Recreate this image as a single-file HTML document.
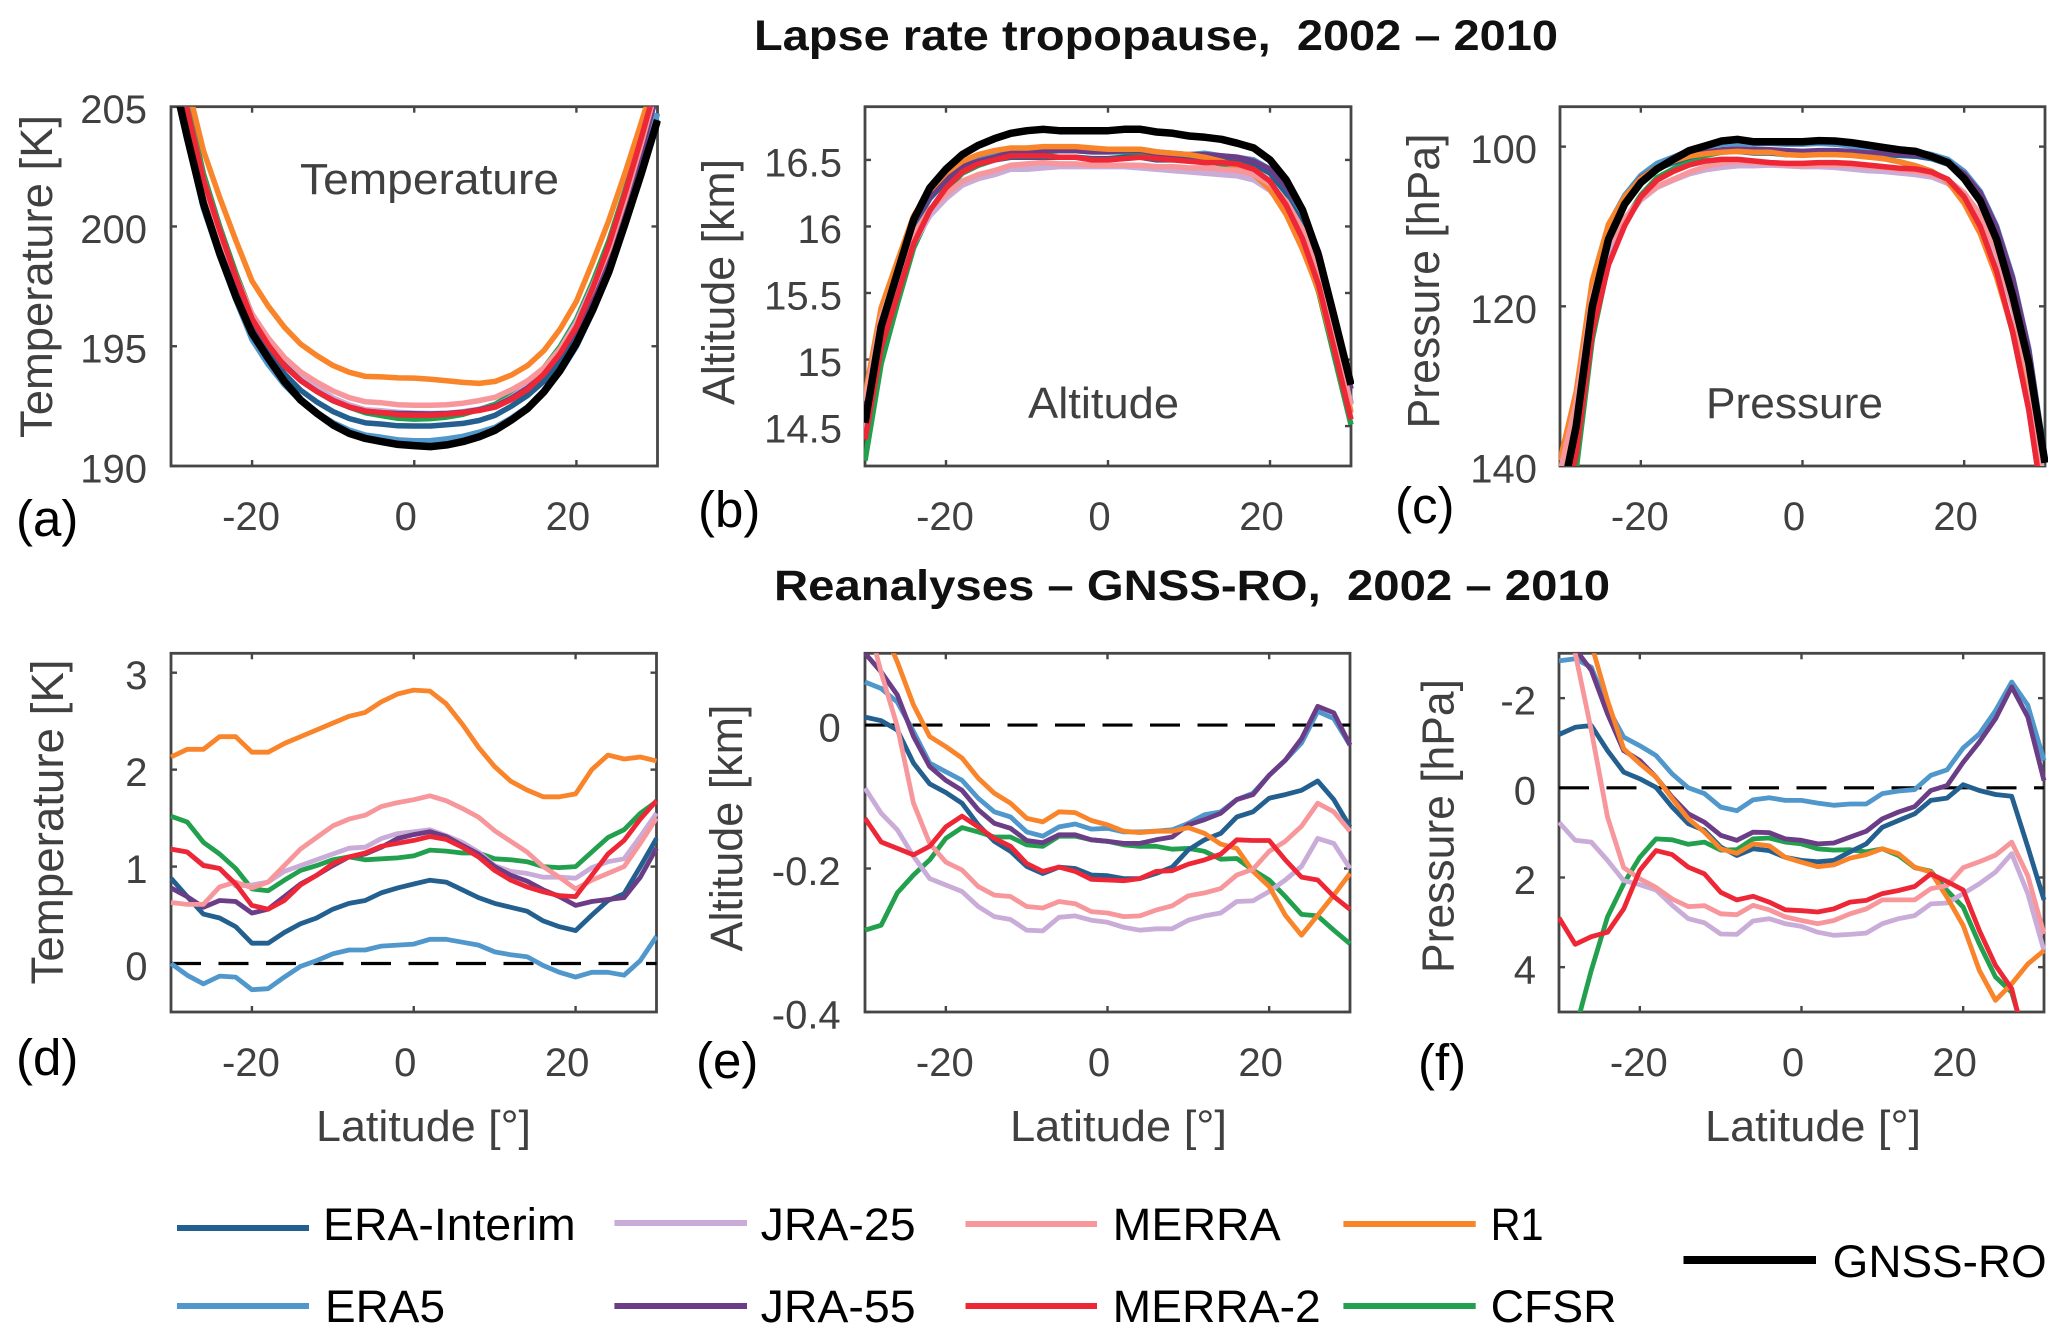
<!DOCTYPE html>
<html lang="en">
<head>
<meta charset="utf-8">
<title>Lapse rate tropopause 2002-2010</title>
<style>
html,body{margin:0;padding:0;background:#fff}
svg{display:block}
text{font-family:"Liberation Sans",sans-serif}
</style>
</head>
<body>
<svg id="figure" xmlns="http://www.w3.org/2000/svg" width="2067" height="1341" viewBox="0 0 2067 1341">
<rect x="0" y="0" width="2067" height="1341" fill="#fff"/>
<text x="754" y="50" font-size="43" font-weight="700" fill="#111" textLength="804" lengthAdjust="spacingAndGlyphs" xml:space="preserve">Lapse rate tropopause,  2002 – 2010</text>
<text x="774" y="600" font-size="43" font-weight="700" fill="#111" textLength="836" lengthAdjust="spacingAndGlyphs" xml:space="preserve">Reanalyses – GNSS-RO,  2002 – 2010</text>

<text transform="translate(52,276.5) rotate(-90)" text-anchor="middle" font-size="45" fill="#404040" textLength="323" lengthAdjust="spacingAndGlyphs">Temperature [K]</text>
<text transform="translate(734,282) rotate(-90)" text-anchor="middle" font-size="45" fill="#404040" textLength="246" lengthAdjust="spacingAndGlyphs">Altitude [km]</text>
<text transform="translate(1439,281) rotate(-90)" text-anchor="middle" font-size="45" fill="#404040" textLength="295" lengthAdjust="spacingAndGlyphs">Pressure [hPa]</text>
<text transform="translate(63,822) rotate(-90)" text-anchor="middle" font-size="45" fill="#404040" textLength="325" lengthAdjust="spacingAndGlyphs">Temperature [K]</text>
<text transform="translate(742,828) rotate(-90)" text-anchor="middle" font-size="45" fill="#404040" textLength="247" lengthAdjust="spacingAndGlyphs">Altitude [km]</text>
<text transform="translate(1453.5,826) rotate(-90)" text-anchor="middle" font-size="45" fill="#404040" textLength="294" lengthAdjust="spacingAndGlyphs">Pressure [hPa]</text>

<text x="316" y="1141" font-size="44" fill="#404040" textLength="215" lengthAdjust="spacingAndGlyphs">Latitude [°]</text>
<text x="1010" y="1141" font-size="44" fill="#404040" textLength="217" lengthAdjust="spacingAndGlyphs">Latitude [°]</text>
<text x="1705" y="1141" font-size="44" fill="#404040" textLength="216" lengthAdjust="spacingAndGlyphs">Latitude [°]</text>

<text x="16" y="536" font-size="51" fill="#000">(a)</text>
<text x="698" y="527" font-size="51" fill="#000">(b)</text>
<text x="1395" y="523" font-size="51" fill="#000">(c)</text>
<text x="16" y="1075" font-size="51" fill="#000">(d)</text>
<text x="696" y="1078" font-size="51" fill="#000">(e)</text>
<text x="1418" y="1080" font-size="51" fill="#000">(f)</text>

<g id="panels"></g>

<text x="300" y="194" font-size="44" fill="#404040" textLength="259" lengthAdjust="spacingAndGlyphs">Temperature</text>
<text x="1028" y="418" font-size="44" fill="#404040" textLength="151" lengthAdjust="spacingAndGlyphs">Altitude</text>
<text x="1706" y="418" font-size="44" fill="#404040" textLength="177" lengthAdjust="spacingAndGlyphs">Pressure</text>

<g>
<line x1="177" y1="1228" x2="309" y2="1228" stroke="#23608f" stroke-width="6"/>
<text x="323" y="1240" font-size="45" fill="#000" textLength="252.6" lengthAdjust="spacingAndGlyphs">ERA-Interim</text>
<line x1="614.4" y1="1223" x2="747" y2="1223" stroke="#c9acd8" stroke-width="6"/>
<text x="760.6" y="1240" font-size="45" fill="#000" textLength="155" lengthAdjust="spacingAndGlyphs">JRA-25</text>
<line x1="965.5" y1="1224" x2="1097" y2="1224" stroke="#f7979c" stroke-width="6"/>
<text x="1112.7" y="1240" font-size="45" fill="#000" textLength="168" lengthAdjust="spacingAndGlyphs">MERRA</text>
<line x1="1343.4" y1="1224" x2="1475.7" y2="1224" stroke="#f9842a" stroke-width="6"/>
<text x="1490.6" y="1240" font-size="45" fill="#000" textLength="53" lengthAdjust="spacingAndGlyphs">R1</text>
<line x1="177" y1="1306" x2="309" y2="1306" stroke="#5097cc" stroke-width="6"/>
<text x="325" y="1322" font-size="45" fill="#000" textLength="120" lengthAdjust="spacingAndGlyphs">ERA5</text>
<line x1="614.4" y1="1306" x2="747" y2="1306" stroke="#6b3d86" stroke-width="6"/>
<text x="760.6" y="1322" font-size="45" fill="#000" textLength="155" lengthAdjust="spacingAndGlyphs">JRA-55</text>
<line x1="965.5" y1="1306" x2="1097" y2="1306" stroke="#ee2737" stroke-width="6"/>
<text x="1112.7" y="1322" font-size="45" fill="#000" textLength="208" lengthAdjust="spacingAndGlyphs">MERRA-2</text>
<line x1="1343.4" y1="1306" x2="1475.7" y2="1306" stroke="#22a04e" stroke-width="6"/>
<text x="1490.6" y="1322" font-size="45" fill="#000" textLength="126" lengthAdjust="spacingAndGlyphs">CFSR</text>
<line x1="1683.5" y1="1260" x2="1816" y2="1260" stroke="#000" stroke-width="8"/>
<text x="1832.7" y="1277" font-size="45" fill="#000" textLength="214" lengthAdjust="spacingAndGlyphs">GNSS-RO</text>
</g>
</svg>

<script>
const latitudes = [-30,-28,-26,-24,-22,-20,-18,-16,-14,-12,-10,-8,-6,-4,-2,0,2,4,6,8,10,12,14,16,18,20,22,24,26,28,30];
const xTicks = [-20,0,20];
const xTickLabels = ['-20','0','20'];
const yTicksTemp = [190,195,200,205];
const yLabelsTemp = ['190','195','200','205'];
const yTicksAlt = [14.5,15,15.5,16,16.5];
const yLabelsAlt = ['14.5','15','15.5','16','16.5'];
const yTicksPres = [100,120,140];
const yLabelsPres = ['100','120','140'];
const yTicksDiffTemp = [0,1,2,3];
const yLabelsDiffTemp = ['0','1','2','3'];
const yTicksDiffAlt = [-0.4,-0.2,0];
const yLabelsDiffAlt = ['-0.4','-0.2','0'];
const yTicksDiffPres = [-2,0,2,4];
const yLabelsDiffPres = ['-2','0','2','4'];

/* (a) temperature */
const tempEraInterim = [207.58,204.43,201.47,199.34,197.45,195.75,194.7,193.84,193.16,192.67,192.27,191.98,191.8,191.75,191.68,191.67,191.67,191.72,191.78,191.9,192.12,192.5,192.95,193.54,194.38,195.46,197.01,198.76,200.85,203.21,205.73];
const tempEra5 = [206.7,203.62,200.75,198.74,196.93,195.27,194.23,193.38,192.72,192.23,191.81,191.5,191.29,191.2,191.09,191.05,191.06,191.13,191.24,191.41,191.62,192.01,192.48,193.08,193.91,194.98,196.42,198.02,200.01,202.24,204.72];
const tempJra25 = [207.88,204.89,201.98,199.85,197.87,196.35,195.33,194.47,193.76,193.27,192.84,192.55,192.35,192.31,192.24,192.21,192.19,192.2,192.27,192.37,192.51,192.87,193.34,193.99,194.89,196,197.5,199.16,201.21,203.52,205.99];
const tempJra55 = [207.48,204.43,201.54,199.52,197.71,196.06,195.05,194.21,193.57,193.11,192.72,192.46,192.28,192.22,192.19,192.18,192.17,192.19,192.24,192.35,192.5,192.83,193.26,193.86,194.69,195.72,197.15,198.77,200.81,203.1,205.63];
const tempMerra = [207.33,204.35,201.57,199.66,197.91,196.32,195.33,194.53,193.93,193.5,193.13,192.85,192.68,192.64,192.56,192.54,192.54,192.56,192.62,192.73,192.87,193.18,193.56,194.1,194.89,195.89,197.37,199.04,201.13,203.45,205.94];
const tempMerra2 = [207.88,204.89,201.97,199.85,197.89,196.14,195.05,194.17,193.56,193.11,192.74,192.46,192.29,192.23,192.14,192.12,192.12,192.16,192.22,192.32,192.46,192.78,193.2,193.84,194.7,195.81,197.42,199.24,201.4,203.7,206.12];
const tempR1 = [208.83,205.95,203.17,201.21,199.41,197.72,196.67,195.79,195.09,194.61,194.19,193.91,193.74,193.72,193.68,193.67,193.62,193.56,193.49,193.45,193.53,193.8,194.2,194.82,195.72,196.87,198.51,200.26,202.24,204.34,206.53];
const tempCfsr = [208.22,205.2,202.21,200,198.05,196.31,195.24,194.38,193.71,193.21,192.78,192.46,192.22,192.1,191.99,191.96,191.98,192.04,192.16,192.36,192.58,192.99,193.46,194.1,194.99,196.12,197.66,199.41,201.51,203.76,206.11];
const tempGnss = [206.7,203.74,200.96,198.87,197.07,195.54,194.49,193.52,192.75,192.2,191.71,191.36,191.15,191.02,190.9,190.85,190.81,190.88,191.02,191.22,191.5,191.92,192.41,193.1,194,195.12,196.51,198.11,200.13,202.21,204.44];

/* (b) altitude */
const altEraInterim = [14.54,15.26,15.64,16,16.21,16.34,16.43,16.47,16.5,16.52,16.52,16.52,16.52,16.52,16.51,16.51,16.52,16.52,16.5,16.5,16.51,16.51,16.5,16.5,16.47,16.4,16.25,16.03,15.7,15.2,14.67];
const altEra5 = [14.59,15.3,15.68,16.04,16.24,16.37,16.46,16.51,16.54,16.57,16.57,16.58,16.58,16.58,16.58,16.58,16.58,16.58,16.56,16.55,16.54,16.55,16.53,16.52,16.5,16.43,16.3,16.1,15.8,15.31,14.78];
const altJra25 = [14.44,15.13,15.5,15.87,16.08,16.21,16.31,16.36,16.39,16.43,16.43,16.44,16.45,16.45,16.45,16.45,16.45,16.44,16.43,16.42,16.41,16.4,16.39,16.38,16.35,16.27,16.13,15.93,15.62,15.14,14.61];
const altJra55 = [14.63,15.32,15.69,16.03,16.23,16.35,16.45,16.49,16.52,16.56,16.56,16.57,16.57,16.57,16.56,16.56,16.57,16.57,16.55,16.54,16.54,16.54,16.53,16.52,16.49,16.43,16.3,16.11,15.81,15.32,14.78];
const altMerra = [14.69,15.32,15.65,15.94,16.13,16.24,16.34,16.39,16.42,16.46,16.47,16.48,16.47,16.47,16.46,16.46,16.46,16.46,16.45,16.45,16.44,16.44,16.43,16.42,16.39,16.32,16.19,15.98,15.67,15.18,14.66];
const altMerra2 = [14.4,15.09,15.48,15.87,16.12,16.29,16.41,16.47,16.5,16.53,16.53,16.53,16.52,16.52,16.5,16.5,16.51,16.52,16.51,16.5,16.49,16.48,16.48,16.47,16.43,16.34,16.16,15.91,15.56,15.06,14.55];
const altR1 = [14.73,15.39,15.74,16.08,16.27,16.4,16.49,16.54,16.57,16.59,16.59,16.6,16.6,16.6,16.59,16.58,16.58,16.58,16.56,16.55,16.54,16.52,16.49,16.45,16.39,16.28,16.09,15.83,15.52,15.06,14.6];
const altCfsr = [14.24,14.97,15.42,15.84,16.1,16.27,16.4,16.46,16.5,16.54,16.55,16.56,16.57,16.57,16.56,16.56,16.56,16.56,16.54,16.53,16.51,16.49,16.47,16.44,16.39,16.28,16.11,15.86,15.51,15.01,14.51];
const altGnss = [14.525,15.25,15.65,16.05,16.29,16.43,16.54,16.61,16.66,16.7,16.72,16.73,16.72,16.72,16.72,16.72,16.73,16.73,16.71,16.7,16.68,16.67,16.655,16.625,16.59,16.5,16.35,16.125,15.78,15.3,14.81];

/* (c) pressure */
const presEraInterim = [143.8,133.7,118.6,110.8,106.9,104.3,102.8,102,101.3,100.9,100.6,100.6,100.8,100.8,101,101,100.9,100.9,100.9,101.1,101,101.1,101.2,101.5,102.2,103.9,106.9,111.8,118.9,128.4,142.1];
const presEra5 = [142.2,132.1,117.3,109.8,106.1,103.6,102.1,101.3,100.5,100,99.7,99.6,99.7,99.6,99.7,99.7,99.6,99.7,99.9,100.2,100.2,100.5,100.6,101,101.6,103.1,105.6,109.9,116.3,125.3,139];
const presJra25 = [145.8,136.2,121.2,113.2,109.3,106.7,105.1,104.2,103.4,102.9,102.6,102.4,102.4,102.3,102.4,102.5,102.5,102.6,102.8,103,103.1,103.3,103.5,103.8,104.6,106.4,108.9,113.5,120.2,129.5,143.2];
const presJra55 = [141.8,131.9,117.4,110,106.4,103.9,102.6,101.8,101.1,100.7,100.4,100.3,100.4,100.4,100.5,100.6,100.5,100.5,100.6,100.8,100.8,100.9,101,101.3,102,103.4,105.8,110.1,116.5,125.5,139.4];
const presMerra = [140.8,132,118.7,112.3,109,106.5,105,104.1,103.2,102.5,102.1,101.9,102,102.1,102.3,102.4,102.3,102.3,102.3,102.5,102.6,102.9,103.1,103.5,104.2,105.8,108.5,113.1,119.9,129.1,142.9];
const presMerra2 = [147.9,138.5,123.3,114.8,109.9,106.3,104.2,103.1,102.3,101.8,101.6,101.6,101.8,102,102.1,102.1,102,102,102.1,102.3,102.5,102.7,102.8,103.2,104.1,106.3,110,115.6,123.2,133,146.5];
const presR1 = [139.3,130.7,116.8,109.7,106.3,104,102.6,101.8,101.2,100.9,100.7,100.6,100.7,100.7,101,101.1,101,101,101.1,101.3,101.5,101.9,102.4,103.1,104.4,107.1,110.9,116.3,123.1,131,143.2];
const presCfsr = [152.5,140.4,124.1,114.5,109.3,106.1,103.9,102.8,101.8,101.1,100.7,100.5,100.5,100.5,100.6,100.7,100.6,100.7,100.9,101.2,101.5,101.9,102.4,103.1,104.3,106.7,110.3,115.8,123.3,132.9,146.6];
const presGnss = [145,135,120,111.6,107.2,104.5,102.8,101.6,100.5,99.9,99.3,99.1,99.4,99.4,99.4,99.4,99.25,99.3,99.5,99.8,100.1,100.4,100.6,101.25,102,104,106.8,111.6,118.7,127.1,139.6];

/* (d) temperature difference */
const dTempEraInterim = [0.88,0.69,0.51,0.47,0.38,0.21,0.21,0.32,0.41,0.47,0.56,0.62,0.65,0.73,0.78,0.82,0.86,0.84,0.76,0.68,0.62,0.58,0.54,0.44,0.38,0.34,0.5,0.65,0.72,1,1.29];
const dTempEra5 = [0,-0.12,-0.21,-0.13,-0.14,-0.27,-0.26,-0.14,-0.03,0.03,0.1,0.14,0.14,0.18,0.19,0.2,0.25,0.25,0.22,0.19,0.12,0.09,0.07,-0.02,-0.09,-0.14,-0.09,-0.09,-0.12,0.03,0.28];
const dTempJra25 = [1.18,1.15,1.02,0.98,0.8,0.81,0.84,0.95,1.01,1.07,1.13,1.19,1.2,1.29,1.34,1.36,1.38,1.32,1.25,1.15,1.01,0.95,0.93,0.89,0.89,0.88,0.99,1.05,1.08,1.31,1.55];
const dTempJra55 = [0.78,0.69,0.58,0.65,0.64,0.52,0.56,0.69,0.82,0.91,1.01,1.1,1.13,1.2,1.29,1.33,1.36,1.31,1.22,1.13,1,0.91,0.85,0.76,0.69,0.6,0.64,0.66,0.68,0.89,1.19];
const dTempMerra = [0.63,0.61,0.61,0.79,0.84,0.78,0.84,1.01,1.18,1.3,1.42,1.49,1.53,1.62,1.66,1.69,1.73,1.68,1.6,1.51,1.37,1.26,1.15,1,0.89,0.77,0.86,0.93,1,1.24,1.5];
const dTempMerra2 = [1.18,1.15,1.01,0.98,0.82,0.6,0.56,0.65,0.81,0.91,1.03,1.1,1.14,1.21,1.24,1.27,1.31,1.28,1.2,1.1,0.96,0.86,0.79,0.74,0.7,0.69,0.91,1.13,1.27,1.49,1.68];
const dTempR1 = [2.13,2.21,2.21,2.34,2.34,2.18,2.18,2.27,2.34,2.41,2.48,2.55,2.59,2.7,2.78,2.82,2.81,2.68,2.47,2.23,2.03,1.88,1.79,1.72,1.72,1.75,2,2.15,2.11,2.13,2.09];
const dTempCfsr = [1.52,1.46,1.25,1.13,0.98,0.77,0.75,0.86,0.96,1.01,1.07,1.1,1.07,1.08,1.09,1.11,1.17,1.16,1.14,1.14,1.08,1.07,1.05,1,0.99,1,1.15,1.3,1.38,1.55,1.67];

/* (e) altitude difference */
const dAltEraInterim = [0.011,0.006,-0.007,-0.053,-0.082,-0.094,-0.109,-0.139,-0.162,-0.176,-0.197,-0.207,-0.198,-0.2,-0.209,-0.21,-0.214,-0.214,-0.207,-0.198,-0.174,-0.16,-0.151,-0.128,-0.121,-0.102,-0.097,-0.091,-0.078,-0.104,-0.142];
const dAltEra5 = [0.06,0.051,0.032,-0.009,-0.053,-0.065,-0.077,-0.102,-0.121,-0.128,-0.149,-0.155,-0.142,-0.138,-0.145,-0.144,-0.149,-0.149,-0.148,-0.146,-0.137,-0.125,-0.121,-0.104,-0.095,-0.07,-0.049,-0.025,0.019,0.009,-0.028];
const dAltJra25 = [-0.088,-0.123,-0.146,-0.183,-0.214,-0.223,-0.232,-0.253,-0.267,-0.271,-0.286,-0.287,-0.268,-0.266,-0.272,-0.275,-0.282,-0.286,-0.284,-0.284,-0.272,-0.266,-0.262,-0.246,-0.245,-0.232,-0.216,-0.197,-0.158,-0.165,-0.2];
const dAltJra55 = [0.1,0.074,0.042,-0.016,-0.058,-0.077,-0.091,-0.118,-0.137,-0.144,-0.161,-0.164,-0.153,-0.153,-0.16,-0.162,-0.165,-0.165,-0.16,-0.156,-0.139,-0.132,-0.123,-0.104,-0.097,-0.07,-0.049,-0.019,0.026,0.017,-0.028];
const dAltMerra = [0.16,0.073,-0.002,-0.109,-0.165,-0.191,-0.202,-0.225,-0.237,-0.239,-0.253,-0.255,-0.246,-0.249,-0.26,-0.262,-0.267,-0.266,-0.258,-0.252,-0.238,-0.234,-0.228,-0.209,-0.201,-0.176,-0.162,-0.141,-0.109,-0.121,-0.148];
const dAltMerra2 = [-0.13,-0.163,-0.172,-0.181,-0.169,-0.142,-0.127,-0.142,-0.158,-0.169,-0.193,-0.204,-0.198,-0.204,-0.215,-0.216,-0.217,-0.214,-0.204,-0.203,-0.194,-0.188,-0.18,-0.16,-0.161,-0.161,-0.188,-0.212,-0.216,-0.239,-0.257];
const dAltR1 = [0.2,0.14,0.088,0.028,-0.016,-0.03,-0.046,-0.074,-0.095,-0.109,-0.13,-0.135,-0.121,-0.122,-0.133,-0.139,-0.148,-0.15,-0.148,-0.148,-0.143,-0.151,-0.166,-0.172,-0.204,-0.225,-0.265,-0.293,-0.265,-0.237,-0.207];
const dAltCfsr = [-0.286,-0.279,-0.234,-0.209,-0.188,-0.158,-0.143,-0.149,-0.156,-0.156,-0.167,-0.169,-0.155,-0.155,-0.16,-0.162,-0.167,-0.169,-0.169,-0.173,-0.172,-0.176,-0.187,-0.186,-0.202,-0.216,-0.239,-0.264,-0.266,-0.286,-0.305];

/* (f) pressure difference */
const dPresEraInterim = [-1.19,-1.35,-1.39,-0.83,-0.35,-0.2,-0.01,0.43,0.8,0.95,1.32,1.51,1.36,1.4,1.55,1.62,1.65,1.62,1.43,1.25,0.88,0.73,0.58,0.28,0.23,-0.07,0.06,0.15,0.19,1.32,2.5];
const dPresEra5 = [-2.83,-2.88,-2.69,-1.8,-1.13,-0.94,-0.72,-0.31,0,0.13,0.43,0.51,0.27,0.22,0.28,0.28,0.34,0.39,0.36,0.36,0.13,0.07,0.04,-0.28,-0.4,-0.89,-1.2,-1.72,-2.36,-1.84,-0.61];
const dPresJra25 = [0.77,1.17,1.21,1.62,2.07,2.16,2.28,2.62,2.92,3.01,3.26,3.27,2.97,2.92,3.03,3.09,3.22,3.29,3.27,3.24,3.03,2.92,2.85,2.59,2.57,2.36,2.14,1.88,1.47,2.36,3.63];
const dPresJra55 = [-3.2,-3.1,-2.62,-1.65,-0.83,-0.61,-0.24,0.21,0.58,0.77,1.06,1.17,0.99,1,1.14,1.17,1.25,1.23,1.1,0.97,0.69,0.54,0.42,0.06,-0.05,-0.57,-1.02,-1.54,-2.25,-1.58,-0.16];
const dPresMerra = [-4.25,-3,-1.28,0.65,1.78,2.03,2.22,2.48,2.65,2.63,2.81,2.83,2.62,2.72,2.88,2.96,3.03,2.96,2.81,2.7,2.5,2.5,2.5,2.25,2.18,1.78,1.65,1.5,1.21,1.96,3.26];
const dPresMerra2 = [2.9,3.49,3.32,3.22,2.7,1.84,1.4,1.49,1.77,1.92,2.33,2.5,2.42,2.55,2.72,2.74,2.77,2.7,2.55,2.51,2.36,2.29,2.2,1.92,2.09,2.28,3.18,3.96,4.48,5.93,6.9];
const dPresR1 = [-5.75,-4.3,-3.21,-1.95,-0.87,-0.54,-0.24,0.24,0.69,0.99,1.36,1.46,1.25,1.29,1.55,1.66,1.76,1.72,1.57,1.49,1.36,1.47,1.77,1.88,2.44,3.07,4.07,4.74,4.37,3.93,3.63];
const dPresCfsr = [7.5,5.41,4.07,2.88,2.14,1.55,1.14,1.16,1.26,1.21,1.39,1.38,1.14,1.12,1.21,1.25,1.36,1.39,1.38,1.43,1.36,1.51,1.78,1.86,2.29,2.66,3.48,4.22,4.56,5.78,7];

const seriesNames = ['cfsr','era-interim','era5','jra-25','jra-55','r1','merra','merra-2','gnss-ro'];
const seriesColors = {'era-interim':'#23608f','era5':'#5097cc','jra-25':'#c9acd8','jra-55':'#6b3d86','merra':'#f7979c','merra-2':'#ee2737','r1':'#f9842a','cfsr':'#22a04e','gnss-ro':'#000000'};

const panelDefs = [
 {id:'a',left:171,right:657.5,top:106.7,bottom:466,yMin:190,yMax:205,flip:false,zero:false,labelRight:147,tickTexts:yLabelsTemp,tickVals:yTicksTemp,xLabelY:530,lw:5.5,gnssW:7.5,
  data:{'cfsr':tempCfsr,'era-interim':tempEraInterim,'era5':tempEra5,'jra-25':tempJra25,'jra-55':tempJra55,'r1':tempR1,'merra':tempMerra,'merra-2':tempMerra2,'gnss-ro':tempGnss}},
 {id:'b',left:865,right:1351,top:106.7,bottom:466,yMin:14.2,yMax:16.9,flip:false,zero:false,labelRight:842,tickTexts:yLabelsAlt,tickVals:yTicksAlt,xLabelY:530,lw:5.5,gnssW:7.5,
  data:{'cfsr':altCfsr,'era-interim':altEraInterim,'era5':altEra5,'jra-25':altJra25,'jra-55':altJra55,'r1':altR1,'merra':altMerra,'merra-2':altMerra2,'gnss-ro':altGnss}},
 {id:'c',left:1560,right:2045,top:106.7,bottom:466,yMin:95,yMax:140,flip:true,zero:false,labelRight:1537,tickTexts:yLabelsPres,tickVals:yTicksPres,xLabelY:530,lw:5.5,gnssW:7.5,
  data:{'cfsr':presCfsr,'era-interim':presEraInterim,'era5':presEra5,'jra-25':presJra25,'jra-55':presJra55,'r1':presR1,'merra':presMerra,'merra-2':presMerra2,'gnss-ro':presGnss}},
 {id:'d',left:171,right:656.5,top:653.3,bottom:1012,yMin:-0.5,yMax:3.2,flip:false,zero:true,labelRight:147.5,tickTexts:yLabelsDiffTemp,tickVals:yTicksDiffTemp,xLabelY:1076,lw:4.8,gnssW:0,
  data:{'cfsr':dTempCfsr,'era-interim':dTempEraInterim,'era5':dTempEra5,'jra-25':dTempJra25,'jra-55':dTempJra55,'r1':dTempR1,'merra':dTempMerra,'merra-2':dTempMerra2}},
 {id:'e',left:865,right:1350,top:653.3,bottom:1012,yMin:-0.4,yMax:0.1,flip:false,zero:true,labelRight:840.7,tickTexts:yLabelsDiffAlt,tickVals:yTicksDiffAlt,xLabelY:1076,lw:4.8,gnssW:0,
  data:{'cfsr':dAltCfsr,'era-interim':dAltEraInterim,'era5':dAltEra5,'jra-25':dAltJra25,'jra-55':dAltJra55,'r1':dAltR1,'merra':dAltMerra,'merra-2':dAltMerra2}},
 {id:'f',left:1559,right:2044,top:653.3,bottom:1012,yMin:-3,yMax:5,flip:true,zero:true,labelRight:1536,tickTexts:yLabelsDiffPres,tickVals:yTicksDiffPres,xLabelY:1076,lw:4.8,gnssW:0,
  data:{'cfsr':dPresCfsr,'era-interim':dPresEraInterim,'era5':dPresEra5,'jra-25':dPresJra25,'jra-55':dPresJra55,'r1':dPresR1,'merra':dPresMerra,'merra-2':dPresMerra2}}
];

const NS = 'http://www.w3.org/2000/svg';
const root = document.getElementById('panels');

function makeLine(parent, x1, y1, x2, y2, color, width) {
  const el = document.createElementNS(NS, 'line');
  el.setAttribute('x1', x1);
  el.setAttribute('y1', y1);
  el.setAttribute('x2', x2);
  el.setAttribute('y2', y2);
  el.setAttribute('stroke', color);
  el.setAttribute('stroke-width', width);
  parent.appendChild(el);
  return el;
}

function makeText(parent, x, y, str, anchor) {
  const el = document.createElementNS(NS, 'text');
  el.setAttribute('x', x);
  el.setAttribute('y', y);
  el.setAttribute('text-anchor', anchor);
  el.setAttribute('font-size', '40');
  el.setAttribute('fill', '#404040');
  el.textContent = str;
  parent.appendChild(el);
  return el;
}

panelDefs.forEach(function (p) {
  const xScale = function (v) { return p.left + (v + 30) / 60 * (p.right - p.left); };
  const yScale = function (v) {
    const t = (v - p.yMin) / (p.yMax - p.yMin);
    return p.flip ? p.top + t * (p.bottom - p.top) : p.bottom - t * (p.bottom - p.top);
  };

  const g = document.createElementNS(NS, 'g');
  
  
  root.appendChild(g);

  const clip = document.createElementNS(NS, 'clipPath');
  clip.setAttribute('id', 'clip-' + p.id);
  const clipRect = document.createElementNS(NS, 'rect');
  clipRect.setAttribute('x', p.left - 1);
  clipRect.setAttribute('y', p.top);
  clipRect.setAttribute('width', p.right - p.left + 4);
  clipRect.setAttribute('height', p.bottom - p.top);
  clip.appendChild(clipRect);
  g.appendChild(clip);

  const frame = document.createElementNS(NS, 'rect');
  frame.setAttribute('x', p.left);
  frame.setAttribute('y', p.top);
  frame.setAttribute('width', p.right - p.left);
  frame.setAttribute('height', p.bottom - p.top);
  frame.setAttribute('fill', 'none');
  frame.setAttribute('stroke', '#464646');
  frame.setAttribute('stroke-width', '2.8');
  
  
  g.appendChild(frame);

  xTicks.forEach(function (t, i) {
    const px = xScale(t);
    const tb = makeLine(g, px, p.bottom, px, p.bottom - 6, '#464646', 2.4);
    
    
    const tt = makeLine(g, px, p.top, px, p.top + 6, '#464646', 2.4);
    
    
    const lab = makeText(g, px + (t < 0 ? -1 : -8.5), p.xLabelY, xTickLabels[i], 'middle');
    
    
  });

  p.tickVals.forEach(function (t, i) {
    const py = yScale(t);
    const tl = makeLine(g, p.left, py, p.left + 6, py, '#464646', 2.4);
    
    
    const tr = makeLine(g, p.right, py, p.right - 6, py, '#464646', 2.4);
    
    
    const lab = makeText(g, p.labelRight, py + 16.5, p.tickTexts[i], 'end');
    
    
  });

  const marks = document.createElementNS(NS, 'g');
  marks.setAttribute('clip-path', 'url(#clip-' + p.id + ')');
  
  
  g.appendChild(marks);

  seriesNames.forEach(function (name) {
    const values = p.data[name];
    if (!values) return;
    const pts = values.map(function (v, i) {
      return xScale(latitudes[i]).toFixed(1) + ',' + yScale(v).toFixed(1);
    }).join(' ');
    const line = document.createElementNS(NS, 'polyline');
    line.setAttribute('points', pts);
    line.setAttribute('fill', 'none');
    line.setAttribute('stroke', seriesColors[name]);
    line.setAttribute('stroke-width', name === 'gnss-ro' ? p.gnssW : p.lw);
    line.setAttribute('stroke-linejoin', 'round');
    
    
    marks.appendChild(line);
  });

  if (p.zero) {
    const zeroLine = makeLine(g, p.left, yScale(0), p.right, yScale(0), '#000', 3.2);
    zeroLine.setAttribute('stroke-dasharray', '30 17.5');
    
    
    marks.insertBefore(zeroLine, marks.firstChild);
  }
});
</script>
</body>
</html>
